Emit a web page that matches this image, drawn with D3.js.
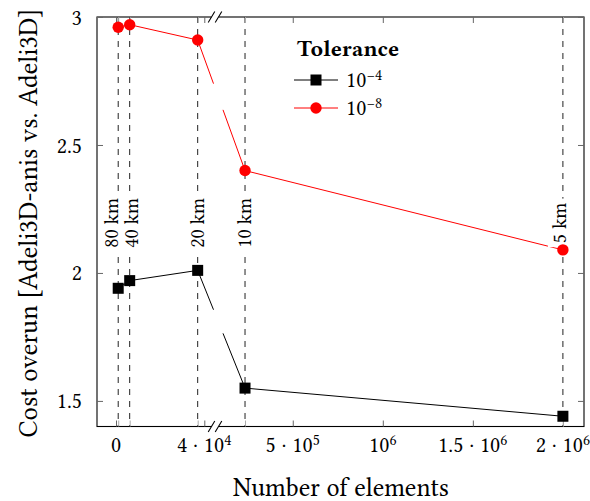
<!DOCTYPE html>
<html>
<head>
<meta charset="utf-8">
<script src="https://cdn.jsdelivr.net/npm/d3@7"></script>
<style>
  body { margin: 0; background: #fff; }
  svg { display: block; }
  .onum { font-feature-settings: "onum" 1; font-variant-numeric: oldstyle-nums; }
</style>
</head>
<body>
<div id="vis-display"></div>
<script>
// Cost overrun vs. number of elements, broken x axis (0..4e4 | 5e5..2e6).

const RESOLUTIONS = ["80 km", "40 km", "20 km", "10 km", "5 km"];
const ELEMENTS    = [1.0e3, 6.2e3, 3.7e4, 2.35e5, 2.0e6];
const COST_TOL4   = [1.94, 1.97, 2.01, 1.55, 1.44];
const COST_TOL8   = [2.96, 2.97, 2.91, 2.40, 2.09];

const X_TICKS_LOW  = [0, 4e4];
const X_TICKS_HIGH = [5e5, 1e6, 1.5e6, 2e6];
const X_TICK_MANT  = ["0", "4", "5", "", "1.5", "2"];
const X_TICK_EXP   = ["", "4", "5", "6", "6", "6"];
const Y_TICKS      = [1.5, 2, 2.5, 3];

const BREAK_VAL = 4e4;

const W = 590, H = 501;
const FONT = '"Libertinus Serif", "Liberation Serif", serif';

const box = { left: 97, right: 584, top: 17, bottom: 426.5 };

// ── Scales ────────────────────────────────────────────────────────────────
const xLow  = d3.scaleLinear().domain([0, 4e4]).range([116, 204.3]);
const xHigh = d3.scaleLinear().domain([0, 2e6]).range([202.7, 562.9]);
const x = v => (v <= BREAK_VAL ? xLow(v) : xHigh(v));
const y = d3.scaleLinear().domain([1.4, 3]).range([box.bottom, box.top]);

const breakX = 215;             // centre of the "//" symbol
const gap = [213.5, 223];       // series lines are cut here

const series = [
  { exp: "4", values: COST_TOL4, color: "#000", marker: "square" },
  { exp: "8", values: COST_TOL8, color: "#ff0000", marker: "circle" },
];

const svg = d3.select("#vis-display").append("svg")
  .attr("width", W).attr("height", H);

function txt(sel, size) {
  return sel.style("font-family", FONT).style("font-size", size + "px").attr("fill", "#000");
}

// ── Vertical dashed resolution lines ──────────────────────────────────────
svg.append("g")
  .selectAll("line")
  .data(ELEMENTS)
  .join("line")
    .attr("x1", d => x(d)).attr("x2", d => x(d))
    .attr("y1", box.top).attr("y2", box.bottom)
    .attr("stroke", "#222")
    .attr("stroke-width", 1)
    .attr("stroke-dasharray", "6,6");

// ── Frame ─────────────────────────────────────────────────────────────────
svg.append("rect")
  .attr("x", box.left).attr("y", box.top)
  .attr("width", box.right - box.left).attr("height", box.bottom - box.top)
  .attr("fill", "none").attr("stroke", "#000").attr("stroke-width", 1.1);

// ticks (inward), bottom and top
function xTicks(g, scale, vals, color) {
  g.append("g").attr("transform", `translate(0,${box.bottom})`)
    .call(d3.axisBottom(scale).tickValues(vals).tickSize(-6).tickFormat(""))
    .call(a => a.select(".domain").remove())
    .call(a => a.selectAll(".tick line").attr("stroke", color));
  g.append("g").attr("transform", `translate(0,${box.top})`)
    .call(d3.axisTop(scale).tickValues(vals).tickSize(-6).tickFormat(""))
    .call(a => a.select(".domain").remove())
    .call(a => a.selectAll(".tick line").attr("stroke", color));
}
const tickG = svg.append("g");
xTicks(tickG, xLow, X_TICKS_LOW, "#666");
xTicks(tickG, xHigh, X_TICKS_HIGH, "#666");
xTicks(tickG, xLow, ELEMENTS.filter(v => v <= BREAK_VAL), "#aaa");
xTicks(tickG, xHigh, ELEMENTS.filter(v => v > BREAK_VAL), "#aaa");

// y axis left with labels, right ticks only
svg.append("g").attr("transform", `translate(${box.left},0)`)
  .call(d3.axisLeft(y).tickValues(Y_TICKS).tickSize(-6).tickPadding(15)
    .tickFormat(d3.format("")))
  .call(a => a.select(".domain").remove())
  .call(a => a.selectAll(".tick line").attr("stroke", "#666"))
  .selectAll("text")
    .call(s => txt(s, 22));

svg.append("g").attr("transform", `translate(${box.right},0)`)
  .call(d3.axisRight(y).tickValues(Y_TICKS).tickSize(-6).tickFormat(""))
  .call(a => a.select(".domain").remove())
  .call(a => a.selectAll(".tick line").attr("stroke", "#666"));

// x tick labels with powers of ten
const xTickVals = X_TICKS_LOW.concat(X_TICKS_HIGH);
const xLab = svg.append("g")
  .selectAll("text")
  .data(xTickVals)
  .join("text")
    .attr("x", d => x(d))
    .attr("y", 452)
    .attr("text-anchor", "middle")
    .call(s => txt(s, 22));
xLab.each(function(d, i) {
  const t = d3.select(this);
  if (!X_TICK_EXP[i]) { t.text(X_TICK_MANT[i]); return; }
  const base = (X_TICK_MANT[i] ? X_TICK_MANT[i] + " · " : "") + "10";
  t.append("tspan").text(base);
  t.append("tspan").attr("dy", "-0.42em").style("font-size", "15.5px").text(X_TICK_EXP[i]);
});

// break symbol "//" on top and bottom frame lines
[box.top, box.bottom].forEach(yy => {
  svg.append("rect")
    .attr("x", breakX - 3.5).attr("y", yy - 1.5)
    .attr("width", 7).attr("height", 3)
    .attr("fill", "#fff");
  [breakX - 3.5, breakX + 3.5].forEach(cx => {
    svg.append("line")
      .attr("x1", cx - 3.3).attr("y1", yy + 5.5)
      .attr("x2", cx + 3.3).attr("y2", yy - 5.5)
      .attr("stroke", "#000").attr("stroke-width", 1.1);
  });
});

// ── Series lines (cut across the axis break) ─────────────────────────────
const lineG = svg.append("g");
series.forEach(s => {
  const pts = ELEMENTS.map((e, i) => [x(e), y(s.values[i])]);
  for (let i = 0; i < pts.length - 1; i++) {
    const [x0, y0] = pts[i], [x1, y1] = pts[i + 1];
    const crosses = ELEMENTS[i] <= BREAK_VAL && ELEMENTS[i + 1] > BREAK_VAL;
    const at = xx => y0 + (y1 - y0) * (xx - x0) / (x1 - x0);
    const parts = crosses
      ? [[[x0, y0], [gap[0], at(gap[0])]], [[gap[1], at(gap[1])], [x1, y1]]]
      : [[[x0, y0], [x1, y1]]];
    parts.forEach(p => {
      lineG.append("path")
        .attr("d", d3.line()(p))
        .attr("fill", "none")
        .attr("stroke", s.color)
        .attr("stroke-width", 1);
    });
  }
});

// ── Resolution labels (white background, rotated, old-style figures) ───
const nudge = [-6, 2, 0, 0, -3];
const labG = svg.append("g");
RESOLUTIONS.forEach((r, i) => {
  const g = labG.append("g")
    .attr("transform", `translate(${x(ELEMENTS[i]) + nudge[i]},223) rotate(-90)`);
  const t = g.append("text")
    .attr("class", "onum")
    .attr("text-anchor", "middle")
    .attr("dy", "0.3em")
    .call(s => txt(s, 20))
    .text(r);
  const bb = t.node().getBBox();
  g.insert("rect", "text")
    .attr("x", bb.x - 4).attr("y", bb.y)
    .attr("width", bb.width + 8).attr("height", bb.height)
    .attr("fill", "#fff");
});

// ── Markers ───────────────────────────────────────────────────────────────
function marker(g, type, cx, cy, color) {
  if (type === "square") {
    g.append("rect")
      .attr("x", cx - 5.5).attr("y", cy - 5.5)
      .attr("width", 11).attr("height", 11)
      .attr("fill", color);
  } else {
    g.append("circle")
      .attr("cx", cx).attr("cy", cy).attr("r", 5.7)
      .attr("fill", color);
  }
}
const markG = svg.append("g");
series.forEach(s => {
  ELEMENTS.forEach((e, i) => marker(markG, s.marker, x(e), y(s.values[i]), s.color));
});

// ── Legend ────────────────────────────────────────────────────────────────
const leg = svg.append("g");
leg.append("text")
  .attr("x", 297).attr("y", 56)
  .call(s => txt(s, 23))
  .style("font-weight", "bold")
  .text("Tolerance");
series.forEach((s, i) => {
  const ly = 80 + i * 28;
  leg.append("line")
    .attr("x1", 294).attr("x2", 338).attr("y1", ly).attr("y2", ly)
    .attr("stroke", s.color).attr("stroke-width", 1);
  marker(leg, s.marker, 316, ly, s.color);
  const t = leg.append("text")
    .attr("x", 346).attr("y", ly + 7)
    .call(s => txt(s, 22));
  t.append("tspan").text("10");
  t.append("tspan").attr("dy", "-0.45em").style("font-size", "15.5px").text("−" + s.exp);
});

// ── Axis titles ───────────────────────────────────────────────────────────
svg.append("text")
  .attr("x", 341).attr("y", 496)
  .attr("text-anchor", "middle")
  .call(s => txt(s, 26))
  .text("Number of elements");

svg.append("text")
  .attr("class", "onum")
  .attr("transform", "translate(37,223) rotate(-90)")
  .attr("text-anchor", "middle")
  .call(s => txt(s, 26.5))
  .text("Cost overun [Adeli3D-anis vs. Adeli3D]");
</script>
</body>
</html>
